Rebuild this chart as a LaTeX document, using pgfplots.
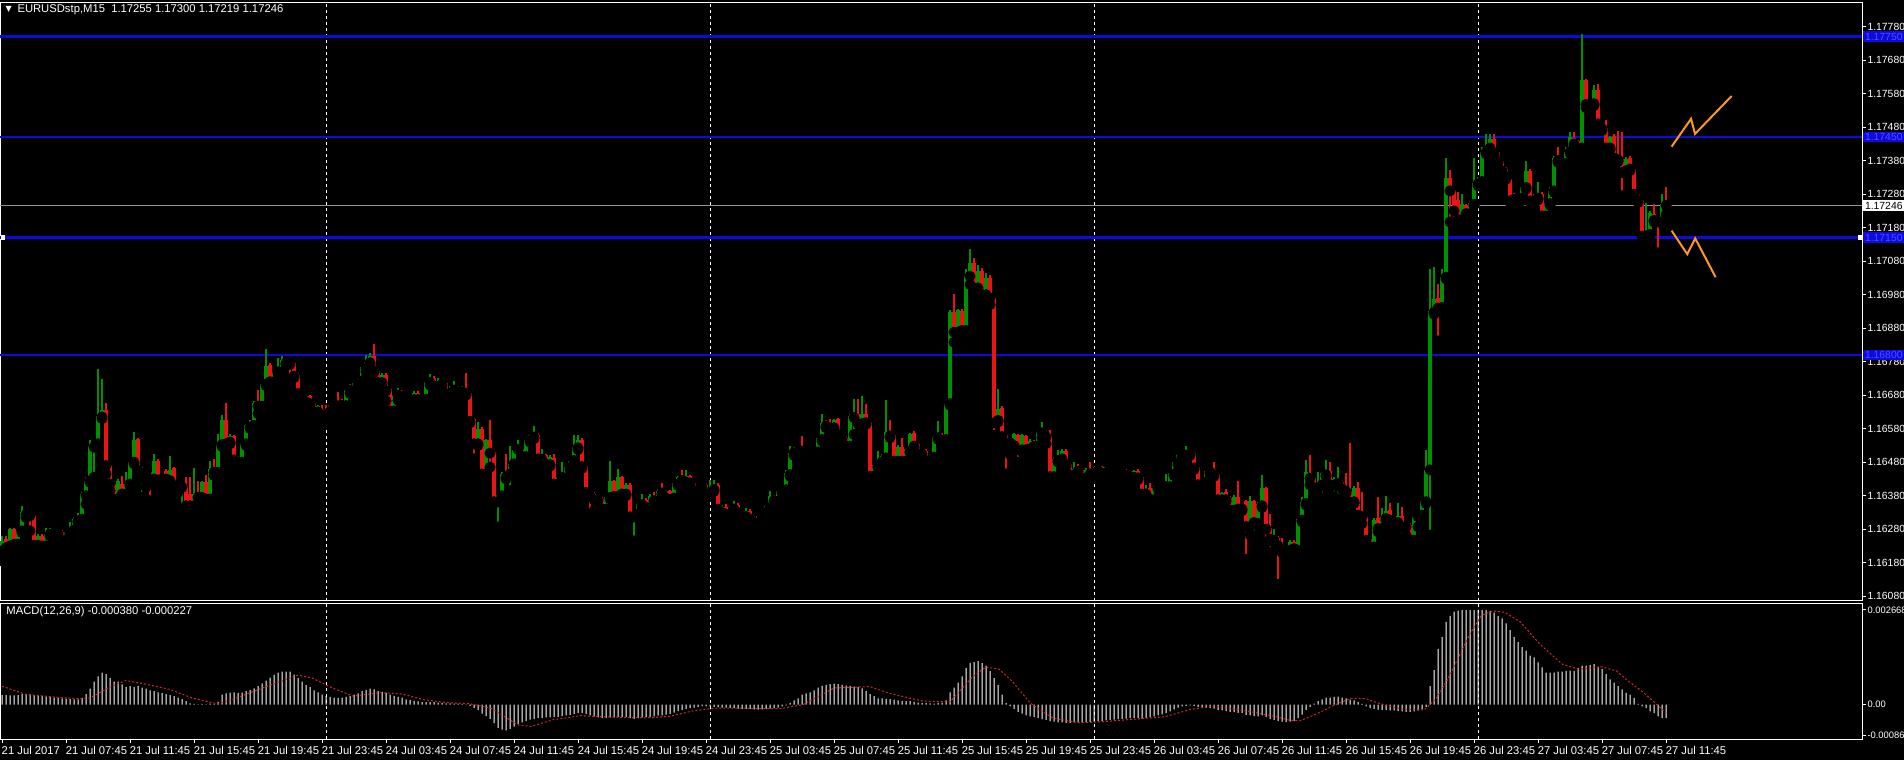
\documentclass[border=0pt]{standalone}
\usepackage{pgfplots}
\usepackage{pgfplotstable}
\pgfplotsset{compat=1.18}
\usepackage{fontspec}
\setmainfont{Liberation Sans}
\newfontfamily\dejavu{DejaVu Sans}
\definecolor{cgreen}{RGB}{0,145,0}
\definecolor{cred}{RGB}{235,20,20}
\definecolor{lblue}{RGB}{10,10,225}
\definecolor{lblue2}{RGB}{80,80,255}
\definecolor{corange}{RGB}{255,150,30}
\definecolor{sigred}{RGB}{215,40,40}
\definecolor{cgray}{RGB}{150,150,150}
\newcommand{\fs}{\fontsize{4.5}{5.4}\selectfont}
\newcommand{\fr}{\fontsize{4.15}{5}\selectfont}
\newcommand{\fm}{\fontsize{3.75}{4.5}\selectfont}

\pgfplotstableread{
i o h l c m
0 1.16215 1.16260 1.16185 1.16245 0.00027
1 1.16250 1.16260 1.16215 1.16225 0.00027
2 1.16230 1.16285 1.16225 1.16280 0.00026
3 1.16280 1.16285 1.16225 1.16235 0.00026
4 1.16235 1.16280 1.16225 1.16275 0.00027
5 1.16275 1.16350 1.16270 1.16330 0.00030
6 1.16327 1.16330 1.16315 1.16323 0.00030
7 1.16325 1.16330 1.16275 1.16320 0.00029
8 1.16322 1.16325 1.16225 1.16232 0.00026
9 1.16232 1.16265 1.16225 1.16260 0.00025
10 1.16260 1.16265 1.16220 1.16230 0.00024
11 1.16230 1.16285 1.16225 1.16265 0.00023
12 1.16265 1.16285 1.16260 1.16272 0.00021
13 1.16268 1.16280 1.16262 1.16272 0.00020
14 1.16267 1.16278 1.16262 1.16272 0.00019
15 1.16272 1.16278 1.16238 1.16245 0.00018
16 1.16247 1.16278 1.16240 1.16273 0.00017
17 1.16270 1.16300 1.16265 1.16278 0.00016
18 1.16278 1.16315 1.16272 1.16310 0.00015
19 1.16305 1.16327 1.16300 1.16315 0.00015
20 1.16310 1.16390 1.16305 1.16385 0.00019
21 1.16380 1.16435 1.16355 1.16425 0.00030
22 1.16425 1.16545 1.16420 1.16527 0.00045
23 1.16525 1.16540 1.16435 1.16535 0.00065
24 1.16535 1.16757 1.16530 1.16617 0.00080
25 1.16615 1.16727 1.16610 1.16635 0.00090
26 1.16635 1.16657 1.16445 1.16470 0.00086
27 1.16470 1.16475 1.16395 1.16415 0.00075
28 1.16415 1.16425 1.16363 1.16370 0.00065
29 1.16370 1.16430 1.16365 1.16425 0.00065
30 1.16415 1.16440 1.16350 1.16385 0.00057
31 1.16385 1.16450 1.16380 1.16415 0.00050
32 1.16415 1.16487 1.16410 1.16482 0.00052
33 1.16480 1.16570 1.16475 1.16545 0.00050
34 1.16548 1.16553 1.16430 1.16455 0.00052
35 1.16430 1.16465 1.16375 1.16460 0.00048
36 1.16462 1.16467 1.16405 1.16450 0.00045
37 1.16452 1.16457 1.16365 1.16428 0.00040
38 1.16430 1.16505 1.16425 1.16485 0.00038
39 1.16485 1.16490 1.16418 1.16425 0.00035
40 1.16430 1.16440 1.16397 1.16431 0.00033
41 1.16455 1.16460 1.16400 1.16430 0.00030
42 1.16425 1.16497 1.16420 1.16457 0.00027
43 1.16462 1.16467 1.16397 1.16410 0.00024
44 1.16413 1.16418 1.16390 1.16403 0.00020
45 1.16405 1.16418 1.16340 1.16413 0.00016
46 1.16410 1.16435 1.16345 1.16350 0.00010
47 1.16385 1.16435 1.16345 1.16350 0.00004
48 1.16350 1.16463 1.16345 1.16385 0.00002
49 1.16385 1.16425 1.16355 1.16375 0.00001
50 1.16375 1.16425 1.16347 1.16420 0.00002
51 1.16420 1.16443 1.16365 1.16370 0.00001
52 1.16370 1.16485 1.16365 1.16460 0.00003
53 1.16457 1.16490 1.16440 1.16450 0.00002
54 1.16450 1.16565 1.16445 1.16532 0.00008
55 1.16532 1.16620 1.16527 1.16607 0.00028
56 1.16605 1.16657 1.16530 1.16535 0.00032
57 1.16540 1.16565 1.16535 1.16557 0.00034
58 1.16557 1.16562 1.16480 1.16487 0.00035
59 1.16492 1.16497 1.16470 1.16480 0.00033
60 1.16480 1.16540 1.16475 1.16535 0.00034
61 1.16535 1.16595 1.16530 1.16590 0.00038
62 1.16585 1.16605 1.16580 1.16592 0.00042
63 1.16590 1.16662 1.16570 1.16657 0.00046
64 1.16655 1.16695 1.16625 1.16647 0.00052
65 1.16647 1.16718 1.16642 1.16713 0.00060
66 1.16713 1.16817 1.16708 1.16767 0.00068
67 1.16770 1.16775 1.16715 1.16720 0.00076
68 1.16720 1.16755 1.16695 1.16750 0.00084
69 1.16750 1.16790 1.16745 1.16765 0.00090
70 1.16750 1.16797 1.16745 1.16785 0.00093
71 1.16785 1.16790 1.16770 1.16775 0.00093
72 1.16777 1.16782 1.16725 1.16772 0.00093
73 1.16775 1.16780 1.16732 1.16737 0.00085
74 1.16740 1.16745 1.16680 1.16685 0.00075
75 1.16685 1.16690 1.16668 1.16675 0.00065
76 1.16678 1.16683 1.16630 1.16660 0.00055
77 1.16677 1.16682 1.16650 1.16655 0.00050
78 1.16657 1.16662 1.16603 1.16630 0.00040
79 1.16630 1.16652 1.16625 1.16647 0.00035
80 1.16638 1.16650 1.16600 1.16607 0.00028
81 1.16630 1.16650 1.16600 1.16623 0.00024
82 1.16630 1.16657 1.16620 1.16652 0.00022
83 1.16649 1.16663 1.16645 1.16657 0.00020
84 1.16657 1.16690 1.16640 1.16648 0.00019
85 1.16655 1.16670 1.16640 1.16649 0.00020
86 1.16649 1.16700 1.16644 1.16695 0.00022
87 1.16695 1.16713 1.16685 1.16696 0.00024
88 1.16693 1.16720 1.16675 1.16715 0.00028
89 1.16713 1.16730 1.16705 1.16725 0.00032
90 1.16723 1.16768 1.16718 1.16763 0.00038
91 1.16760 1.16800 1.16750 1.16778 0.00042
92 1.16777 1.16807 1.16772 1.16797 0.00045
93 1.16797 1.16833 1.16748 1.16753 0.00043
94 1.16753 1.16760 1.16710 1.16718 0.00038
95 1.16718 1.16745 1.16713 1.16740 0.00036
96 1.16740 1.16745 1.16663 1.16693 0.00033
97 1.16697 1.16702 1.16620 1.16633 0.00028
98 1.16633 1.16685 1.16628 1.16680 0.00025
99 1.16680 1.16700 1.16665 1.16685 0.00022
100 1.16688 1.16695 1.16668 1.16673 0.00020
101 1.16682 1.16692 1.16673 1.16683 0.00015
102 1.16682 1.16687 1.16662 1.16667 0.00013
103 1.16667 1.16692 1.16662 1.16687 0.00011
104 1.16687 1.16692 1.16662 1.16667 0.00009
105 1.16668 1.16678 1.16663 1.16673 0.00007
106 1.16668 1.16723 1.16663 1.16718 0.00007
107 1.16718 1.16743 1.16710 1.16730 0.00008
108 1.16732 1.16737 1.16702 1.16707 0.00007
109 1.16705 1.16730 1.16690 1.16720 0.00006
110 1.16722 1.16727 1.16707 1.16712 0.00005
111 1.16715 1.16720 1.16680 1.16685 0.00004
112 1.16685 1.16707 1.16680 1.16695 0.00004
113 1.16695 1.16723 1.16690 1.16700 0.00003
114 1.16703 1.16708 1.16670 1.16690 0.00003
115 1.16690 1.16707 1.16685 1.16702 0.00002
116 1.16700 1.16745 1.16680 1.16685 0.00001
117 1.16688 1.16693 1.16597 1.16602 -0.00003
118 1.16608 1.16613 1.16490 1.16535 -0.00010
119 1.16535 1.16600 1.16530 1.16580 -0.00015
120 1.16580 1.16585 1.16415 1.16445 -0.00025
121 1.16445 1.16550 1.16425 1.16545 -0.00032
122 1.16545 1.16605 1.16465 1.16507 -0.00040
123 1.16510 1.16515 1.16357 1.16362 -0.00052
124 1.16362 1.16387 1.16287 1.16382 -0.00065
125 1.16380 1.16450 1.16375 1.16445 -0.00070
126 1.16447 1.16505 1.16430 1.16435 -0.00072
127 1.16445 1.16527 1.16395 1.16475 -0.00068
128 1.16475 1.16522 1.16470 1.16517 -0.00062
129 1.16518 1.16545 1.16473 1.16519 -0.00055
130 1.16518 1.16523 1.16492 1.16497 -0.00050
131 1.16497 1.16550 1.16492 1.16545 -0.00046
132 1.16545 1.16565 1.16540 1.16560 -0.00042
133 1.16555 1.16587 1.16550 1.16562 -0.00040
134 1.16562 1.16567 1.16485 1.16490 -0.00038
135 1.16488 1.16520 1.16483 1.16500 -0.00038
136 1.16500 1.16505 1.16450 1.16473 -0.00036
137 1.16473 1.16500 1.16468 1.16495 -0.00035
138 1.16493 1.16505 1.16410 1.16415 -0.00035
139 1.16415 1.16440 1.16410 1.16435 -0.00034
140 1.16435 1.16480 1.16425 1.16436 -0.00032
141 1.16433 1.16470 1.16428 1.16465 -0.00030
142 1.16463 1.16490 1.16458 1.16485 -0.00029
143 1.16485 1.16562 1.16480 1.16525 -0.00026
144 1.16523 1.16560 1.16518 1.16545 -0.00024
145 1.16547 1.16552 1.16462 1.16467 -0.00023
146 1.16470 1.16475 1.16385 1.16390 -0.00026
147 1.16393 1.16398 1.16320 1.16380 -0.00030
148 1.16385 1.16390 1.16335 1.16367 -0.00033
149 1.16365 1.16375 1.16335 1.16370 -0.00036
150 1.16370 1.16375 1.16335 1.16340 -0.00038
151 1.16340 1.16382 1.16335 1.16377 -0.00038
152 1.16375 1.16485 1.16370 1.16423 -0.00036
153 1.16423 1.16428 1.16373 1.16378 -0.00036
154 1.16378 1.16460 1.16373 1.16435 -0.00035
155 1.16435 1.16440 1.16380 1.16385 -0.00035
156 1.16385 1.16418 1.16380 1.16413 -0.00034
157 1.16413 1.16418 1.16312 1.16317 -0.00038
158 1.16317 1.16332 1.16245 1.16327 -0.00040
159 1.16327 1.16360 1.16322 1.16355 -0.00038
160 1.16353 1.16385 1.16348 1.16367 -0.00036
161 1.16367 1.16372 1.16340 1.16345 -0.00035
162 1.16345 1.16385 1.16340 1.16380 -0.00034
163 1.16380 1.16390 1.16355 1.16365 -0.00033
164 1.16365 1.16400 1.16360 1.16395 -0.00031
165 1.16403 1.16418 1.16383 1.16388 -0.00030
166 1.16373 1.16398 1.16368 1.16393 -0.00028
167 1.16393 1.16398 1.16360 1.16368 -0.00026
168 1.16373 1.16423 1.16368 1.16418 -0.00022
169 1.16415 1.16440 1.16410 1.16435 -0.00018
170 1.16435 1.16458 1.16420 1.16425 -0.00015
171 1.16421 1.16458 1.16416 1.16438 -0.00012
172 1.16438 1.16443 1.16413 1.16418 -0.00010
173 1.16418 1.16423 1.16390 1.16395 -0.00008
174 1.16395 1.16413 1.16390 1.16408 -0.00006
175 1.16405 1.16418 1.16400 1.16411 -0.00004
176 1.16411 1.16416 1.16378 1.16385 -0.00005
177 1.16385 1.16428 1.16380 1.16398 -0.00005
178 1.16398 1.16428 1.16393 1.16411 -0.00006
179 1.16413 1.16418 1.16330 1.16340 -0.00007
180 1.16330 1.16352 1.16315 1.16345 -0.00008
181 1.16345 1.16355 1.16310 1.16325 -0.00008
182 1.16325 1.16350 1.16318 1.16340 -0.00009
183 1.16340 1.16365 1.16332 1.16352 -0.00010
184 1.16352 1.16358 1.16320 1.16330 -0.00011
185 1.16330 1.16337 1.16305 1.16318 -0.00012
186 1.16318 1.16342 1.16310 1.16335 -0.00012
187 1.16335 1.16340 1.16300 1.16310 -0.00012
188 1.16310 1.16318 1.16280 1.16298 -0.00013
189 1.16298 1.16325 1.16285 1.16320 -0.00014
190 1.16320 1.16338 1.16312 1.16332 -0.00013
191 1.16330 1.16352 1.16325 1.16348 -0.00012
192 1.16345 1.16395 1.16340 1.16378 -0.00011
193 1.16378 1.16383 1.16358 1.16365 -0.00010
194 1.16363 1.16398 1.16358 1.16393 -0.00008
195 1.16393 1.16408 1.16388 1.16403 -0.00005
196 1.16398 1.16458 1.16383 1.16448 -0.00002
197 1.16443 1.16528 1.16438 1.16508 0.00005
198 1.16508 1.16525 1.16500 1.16515 0.00012
199 1.16505 1.16523 1.16488 1.16518 0.00018
200 1.16518 1.16558 1.16508 1.16513 0.00028
201 1.16515 1.16528 1.16505 1.16516 0.00032
202 1.16513 1.16526 1.16508 1.16521 0.00035
203 1.16518 1.16523 1.16503 1.16508 0.00040
204 1.16511 1.16556 1.16506 1.16551 0.00048
205 1.16548 1.16623 1.16543 1.16598 0.00053
206 1.16601 1.16605 1.16583 1.16588 0.00056
207 1.16595 1.16608 1.16563 1.16581 0.00058
208 1.16583 1.16610 1.16578 1.16605 0.00059
209 1.16608 1.16613 1.16556 1.16561 0.00058
210 1.16563 1.16568 1.16528 1.16548 0.00056
211 1.16553 1.16558 1.16508 1.16528 0.00054
212 1.16528 1.16623 1.16523 1.16618 0.00053
213 1.16613 1.16668 1.16563 1.16625 0.00051
214 1.16625 1.16668 1.16563 1.16595 0.00050
215 1.16595 1.16678 1.16590 1.16625 0.00046
216 1.16625 1.16655 1.16593 1.16598 0.00038
217 1.16601 1.16606 1.16433 1.16438 0.00030
218 1.16438 1.16476 1.16415 1.16471 0.00024
219 1.16468 1.16513 1.16463 1.16483 0.00018
220 1.16481 1.16503 1.16473 1.16498 0.00018
221 1.16493 1.16665 1.16488 1.16571 0.00016
222 1.16573 1.16605 1.16553 1.16558 0.00016
223 1.16561 1.16566 1.16478 1.16483 0.00014
224 1.16483 1.16530 1.16478 1.16525 0.00012
225 1.16525 1.16551 1.16473 1.16483 0.00010
226 1.16483 1.16523 1.16478 1.16518 0.00010
227 1.16513 1.16568 1.16508 1.16563 0.00010
228 1.16568 1.16573 1.16523 1.16528 0.00008
229 1.16533 1.16538 1.16500 1.16505 0.00006
230 1.16505 1.16518 1.16468 1.16513 0.00005
231 1.16513 1.16518 1.16480 1.16485 0.00005
232 1.16483 1.16503 1.16458 1.16498 0.00004
233 1.16495 1.16560 1.16490 1.16555 0.00003
234 1.16553 1.16603 1.16548 1.16561 0.00005
235 1.16561 1.16568 1.16533 1.16543 0.00006
236 1.16548 1.16660 1.16543 1.16655 0.00012
237 1.16655 1.16933 1.16650 1.16928 0.00035
238 1.16928 1.16981 1.16838 1.16868 0.00048
239 1.16868 1.16938 1.16843 1.16933 0.00062
240 1.16931 1.16936 1.16855 1.16873 0.00080
241 1.16873 1.17058 1.16868 1.17035 0.00104
242 1.17035 1.17116 1.17010 1.17075 0.00118
243 1.17075 1.17090 1.16985 1.17000 0.00120
244 1.17000 1.17070 1.16990 1.17050 0.00123
245 1.17050 1.17060 1.16960 1.16980 0.00118
246 1.16980 1.17045 1.16965 1.17030 0.00110
247 1.17030 1.17040 1.16950 1.16970 0.00095
248 1.16970 1.16975 1.16560 1.16597 0.00075
249 1.16605 1.16697 1.16600 1.16640 0.00055
250 1.16642 1.16647 1.16515 1.16557 0.00028
251 1.16560 1.16565 1.16445 1.16535 0.00005
252 1.16538 1.16547 1.16503 1.16539 -0.00005
253 1.16530 1.16568 1.16525 1.16563 -0.00012
254 1.16560 1.16565 1.16480 1.16517 -0.00020
255 1.16517 1.16565 1.16512 1.16560 -0.00025
256 1.16557 1.16562 1.16512 1.16517 -0.00030
257 1.16520 1.16548 1.16515 1.16543 -0.00033
258 1.16540 1.16545 1.16510 1.16527 -0.00035
259 1.16528 1.16575 1.16523 1.16570 -0.00038
260 1.16568 1.16600 1.16553 1.16569 -0.00041
261 1.16568 1.16577 1.16535 1.16555 -0.00043
262 1.16557 1.16577 1.16432 1.16437 -0.00046
263 1.16437 1.16495 1.16432 1.16490 -0.00048
264 1.16485 1.16515 1.16480 1.16495 -0.00050
265 1.16490 1.16520 1.16485 1.16513 -0.00050
266 1.16513 1.16518 1.16468 1.16473 -0.00051
267 1.16475 1.16480 1.16430 1.16442 -0.00051
268 1.16442 1.16480 1.16425 1.16460 -0.00050
269 1.16460 1.16475 1.16448 1.16453 -0.00050
270 1.16457 1.16462 1.16427 1.16432 -0.00050
271 1.16432 1.16462 1.16407 1.16457 -0.00050
272 1.16457 1.16480 1.16440 1.16445 -0.00049
273 1.16443 1.16465 1.16438 1.16460 -0.00048
274 1.16455 1.16473 1.16450 1.16467 -0.00047
275 1.16465 1.16470 1.16442 1.16447 -0.00046
276 1.16447 1.16470 1.16442 1.16465 -0.00044
277 1.16463 1.16473 1.16458 1.16468 -0.00043
278 1.16465 1.16470 1.16445 1.16450 -0.00042
279 1.16457 1.16470 1.16447 1.16458 -0.00041
280 1.16457 1.16462 1.16442 1.16447 -0.00040
281 1.16455 1.16460 1.16435 1.16440 -0.00039
282 1.16447 1.16452 1.16430 1.16435 -0.00038
283 1.16435 1.16458 1.16430 1.16453 -0.00038
284 1.16455 1.16460 1.16428 1.16433 -0.00038
285 1.16435 1.16440 1.16363 1.16385 -0.00040
286 1.16385 1.16413 1.16380 1.16398 -0.00037
287 1.16403 1.16417 1.16365 1.16370 -0.00035
288 1.16367 1.16408 1.16362 1.16403 -0.00033
289 1.16405 1.16410 1.16375 1.16400 -0.00030
290 1.16403 1.16417 1.16398 1.16410 -0.00027
291 1.16407 1.16445 1.16385 1.16410 -0.00024
292 1.16407 1.16452 1.16402 1.16447 -0.00019
293 1.16445 1.16485 1.16440 1.16480 -0.00013
294 1.16477 1.16505 1.16472 1.16500 -0.00008
295 1.16497 1.16508 1.16492 1.16503 -0.00005
296 1.16500 1.16527 1.16495 1.16513 -0.00003
297 1.16513 1.16518 1.16500 1.16505 -0.00002
298 1.16507 1.16512 1.16458 1.16463 -0.00003
299 1.16467 1.16472 1.16408 1.16413 -0.00006
300 1.16413 1.16430 1.16405 1.16425 -0.00008
301 1.16422 1.16458 1.16417 1.16453 -0.00009
302 1.16450 1.16467 1.16445 1.16457 -0.00010
303 1.16460 1.16480 1.16438 1.16443 -0.00011
304 1.16445 1.16450 1.16363 1.16368 -0.00015
305 1.16368 1.16392 1.16363 1.16387 -0.00016
306 1.16390 1.16400 1.16363 1.16368 -0.00018
307 1.16373 1.16378 1.16320 1.16337 -0.00020
308 1.16337 1.16382 1.16332 1.16377 -0.00021
309 1.16377 1.16425 1.16320 1.16340 -0.00023
310 1.16340 1.16352 1.16335 1.16347 -0.00024
311 1.16363 1.16368 1.16190 1.16288 -0.00029
312 1.16288 1.16380 1.16263 1.16363 -0.00030
313 1.16363 1.16368 1.16260 1.16300 -0.00032
314 1.16297 1.16360 1.16292 1.16355 -0.00033
315 1.16350 1.16442 1.16345 1.16402 -0.00030
316 1.16402 1.16407 1.16240 1.16280 -0.00035
317 1.16285 1.16325 1.16210 1.16250 -0.00040
318 1.16247 1.16280 1.16242 1.16253 -0.00043
319 1.16255 1.16260 1.16115 1.16230 -0.00046
320 1.16232 1.16255 1.16210 1.16215 -0.00048
321 1.16213 1.16225 1.16208 1.16220 -0.00049
322 1.16217 1.16247 1.16212 1.16242 -0.00048
323 1.16242 1.16247 1.16207 1.16222 -0.00046
324 1.16217 1.16314 1.16212 1.16309 -0.00038
325 1.16307 1.16377 1.16302 1.16362 -0.00028
326 1.16357 1.16487 1.16352 1.16452 -0.00015
327 1.16447 1.16502 1.16412 1.16432 -0.00006
328 1.16434 1.16439 1.16399 1.16404 0.00003
329 1.16402 1.16452 1.16382 1.16417 0.00010
330 1.16412 1.16452 1.16362 1.16447 0.00015
331 1.16442 1.16487 1.16437 1.16457 0.00020
332 1.16455 1.16482 1.16407 1.16412 0.00020
333 1.16412 1.16435 1.16377 1.16430 0.00022
334 1.16417 1.16467 1.16367 1.16432 0.00023
335 1.16422 1.16427 1.16372 1.16400 0.00020
336 1.16404 1.16447 1.16387 1.16392 0.00018
337 1.16394 1.16537 1.16347 1.16360 0.00014
338 1.16362 1.16409 1.16357 1.16404 0.00012
339 1.16404 1.16422 1.16317 1.16322 0.00008
340 1.16327 1.16392 1.16297 1.16317 0.00002
341 1.16317 1.16322 1.16222 1.16247 -0.00005
342 1.16250 1.16255 1.16202 1.16227 -0.00010
343 1.16227 1.16312 1.16217 1.16307 -0.00012
344 1.16312 1.16377 1.16272 1.16282 -0.00014
345 1.16282 1.16342 1.16277 1.16317 -0.00015
346 1.16312 1.16380 1.16307 1.16335 -0.00015
347 1.16337 1.16357 1.16277 1.16307 -0.00016
348 1.16312 1.16317 1.16297 1.16302 -0.00016
349 1.16300 1.16357 1.16295 1.16320 -0.00018
350 1.16320 1.16347 1.16247 1.16287 -0.00019
351 1.16287 1.16297 1.16262 1.16292 -0.00020
352 1.16292 1.16297 1.16237 1.16247 -0.00020
353 1.16247 1.16322 1.16242 1.16317 -0.00019
354 1.16317 1.16332 1.16287 1.16327 -0.00017
355 1.16322 1.16369 1.16317 1.16364 -0.00013
356 1.16362 1.16517 1.16357 1.16457 -0.00006
357 1.16457 1.17057 1.16262 1.16932 0.00052
358 1.16927 1.17062 1.16922 1.16967 0.00097
359 1.16970 1.17012 1.16842 1.16940 0.00157
360 1.16942 1.17057 1.16937 1.17032 0.00190
361 1.17032 1.17387 1.17027 1.17327 0.00233
362 1.17327 1.17352 1.17197 1.17290 0.00250
363 1.17292 1.17297 1.17187 1.17230 0.00262
364 1.17262 1.17287 1.17199 1.17204 0.00265
365 1.17204 1.17282 1.17192 1.17250 0.00266
366 1.17247 1.17252 1.17210 1.17222 0.00266
367 1.17222 1.17259 1.17210 1.17254 0.00266
368 1.17250 1.17387 1.17245 1.17312 0.00266
369 1.17310 1.17330 1.17305 1.17322 0.002665
370 1.17318 1.17420 1.17313 1.17407 0.002668
371 1.17405 1.17460 1.17400 1.17420 0.00266
372 1.17418 1.17460 1.17413 1.17445 0.00264
373 1.17445 1.17460 1.17397 1.17402 0.00259
374 1.17405 1.17410 1.17373 1.17378 0.00250
375 1.17380 1.17385 1.17345 1.17350 0.00243
376 1.17355 1.17360 1.17325 1.17330 0.00229
377 1.17325 1.17330 1.17255 1.17260 0.00210
378 1.17280 1.17285 1.17260 1.17265 0.00190
379 1.17278 1.17283 1.17255 1.17268 0.00176
380 1.17268 1.17307 1.17260 1.17302 0.00162
381 1.17300 1.17380 1.17295 1.17350 0.00152
382 1.17350 1.17355 1.17255 1.17260 0.00138
383 1.17270 1.17280 1.17245 1.17260 0.00133
384 1.17268 1.17315 1.17263 1.17282 0.00119
385 1.17282 1.17287 1.17205 1.17215 0.00105
386 1.17215 1.17260 1.17202 1.17255 0.00090
387 1.17252 1.17300 1.17247 1.17290 0.00090
388 1.17290 1.17395 1.17285 1.17388 0.00090
389 1.17390 1.17422 1.17375 1.17380 0.00093
390 1.17382 1.17387 1.17360 1.17370 0.00093
391 1.17372 1.17420 1.17367 1.17405 0.00095
392 1.17407 1.17465 1.17402 1.17450 0.00096
393 1.17448 1.17465 1.17425 1.17430 0.00095
394 1.17438 1.17443 1.17410 1.17415 0.00103
395 1.17418 1.17758 1.17413 1.17620 0.00110
396 1.17620 1.17625 1.17538 1.17548 0.00110
397 1.17552 1.17557 1.17520 1.17548 0.00112
398 1.17550 1.17605 1.17545 1.17590 0.00114
399 1.17590 1.17610 1.17485 1.17490 0.00105
400 1.17490 1.17495 1.17470 1.17475 0.00100
401 1.17478 1.17500 1.17413 1.17418 0.00086
402 1.17418 1.17455 1.17413 1.17450 0.00071
403 1.17455 1.17460 1.17383 1.17388 0.00062
404 1.17390 1.17470 1.17377 1.17382 0.00052
405 1.17385 1.17465 1.17275 1.17345 0.00043
406 1.17350 1.17390 1.17345 1.17385 0.00033
407 1.17388 1.17393 1.17350 1.17355 0.00028
408 1.17355 1.17360 1.17275 1.17280 0.00019
409 1.17280 1.17285 1.17255 1.17260 0.00002
410 1.17262 1.17267 1.17135 1.17155 -0.00005
411 1.17155 1.17255 1.17145 1.17165 -0.00010
412 1.17160 1.17230 1.17145 1.17225 -0.00019
413 1.17222 1.17250 1.17197 1.17202 -0.00024
414 1.17205 1.17210 1.17105 1.17198 -0.00033
415 1.17198 1.17280 1.17193 1.17250 -0.00038
416 1.17255 1.17300 1.17219 1.17246 -0.00038
}\candles

\pgfplotstableread{
i s
0 0.00052
6 0.00029
14 0.00021
18.5 0.00017
22 0.00019
27 0.00050
31 0.00068
35 0.00060
42 0.00043
47.5 0.00019
54 0.00002
57.5 0.00014
63 0.00038
68.7 0.00062
74 0.00083
77.6 0.00075
82 0.00050
87.7 0.00024
94.4 0.00034
100 0.00030
105.5 0.00014
111 0.00006
116.7 0.00003
122.3 -0.00010
129 -0.00057
132.3 -0.00061
137.9 -0.00042
144.6 -0.00031
152.4 -0.00035
161.3 -0.00037
166.9 -0.00033
172.5 -0.00018
178 -0.00010
185.7 -0.00010
194.6 -0.00011
200.2 0.00000
208 0.00047
216.9 0.00051
222.5 0.00030
230.3 0.00010
237 0.00008
242.6 0.00078
245.9 0.00106
249.3 0.00100
252.6 0.00065
257.1 0.00004
262.7 -0.00038
269.4 -0.00051
275 -0.00048
281.6 -0.00042
290.6 -0.00034
297.3 -0.00013
302.9 -0.00004
308.4 -0.00012
317.4 -0.00031
322 -0.00044
324.6 -0.00045
329.4 -0.00022
333.3 0.00000
337.2 0.00018
341 0.00017
343.9 0.00005
349.7 -0.00012
355.5 -0.00015
358.4 0.00015
361.2 0.00067
364.1 0.00133
367 0.00200
369.9 0.00252
372.8 0.00264
375.7 0.00260
379.6 0.00233
384.4 0.00171
390.1 0.00114
394 0.00100
399.8 0.00107
403.6 0.00095
406.5 0.00067
409.4 0.00043
412.3 0.00015
414.5 -0.00008
416 -0.000227
}\signal

\begin{document}
\begin{tikzpicture}[x=1pt,y=1pt]
\useasboundingbox (0pt,0pt) rectangle (761.6pt,304pt);
\fill[black] (0pt,0pt) rectangle (761.6pt,304pt);

% ---------------- main price panel ----------------
\begin{axis}[
  name=main, at={(0pt,303.04pt)}, anchor=north west,
  scale only axis, width=744.8pt, height=239.44pt,
  xmin=-0.5, xmax=465, ymin=1.160657, ymax=1.178525,
  axis line style={white, line width=0.4pt},
  xtick=\empty,
  scaled y ticks=false,
  ytick={1.1608,1.1618,1.1628,1.1638,1.1648,1.1658,1.1668,1.1678,1.1688,1.1698,1.1708,1.1718,1.1728,1.1738,1.1748,1.1758,1.1768,1.1778},
  yticklabels={1.16080,1.16180,1.16280,1.16380,1.16480,1.16580,1.16680,1.16780,1.16880,1.16980,1.17080,1.17180,1.17280,1.17380,1.17480,1.17580,1.17680,1.17780},
  ytick pos=right, yticklabel pos=right,
  tick align=outside, major tick length=1.6pt,
  tick style={white, line width=0.4pt},
  yticklabel style={text=white, font=\fr, anchor=west, inner sep=0pt, xshift=0.4pt},
]
% day separators
\draw[white, line width=0.4pt, dash pattern=on 1.2pt off 1.2pt] (axis cs:81,1.160657) -- (axis cs:81,1.178525);
\draw[white, line width=0.4pt, dash pattern=on 1.2pt off 1.2pt] (axis cs:177,1.160657) -- (axis cs:177,1.178525);
\draw[white, line width=0.4pt, dash pattern=on 1.2pt off 1.2pt] (axis cs:273,1.160657) -- (axis cs:273,1.178525);
\draw[white, line width=0.4pt, dash pattern=on 1.2pt off 1.2pt] (axis cs:369,1.160657) -- (axis cs:369,1.178525);
% horizontal levels
\addplot[lblue, line width=1pt] coordinates {(-0.5,1.17750) (465,1.17750)};
\addplot[lblue, line width=1pt] coordinates {(-0.5,1.17450) (465,1.17450)};
\addplot[lblue, line width=1pt] coordinates {(-0.5,1.17150) (465,1.17150)};
\addplot[lblue, line width=1pt] coordinates {(-0.5,1.16800) (465,1.16800)};
\addplot[cgray, line width=0.4pt] coordinates {(-0.5,1.17246) (465,1.17246)};
\addplot[only marks, mark=square*, mark size=0.7pt, white] coordinates {(0.3,1.17150) (464.6,1.17150)};
% candle wicks
\addplot[only marks, mark=none, restrict expr to domain={\thisrow{c}-\thisrow{o}}{0:1},
  error bars/.cd, y dir=plus, y explicit, error mark=none,
  error bar style={cgreen, line width=0.45pt}]
  table[x=i, y=l, y error expr={\thisrow{h}-\thisrow{l}}]{\candles};
\addplot[only marks, mark=none, restrict expr to domain={\thisrow{o}-\thisrow{c}}{0.000001:1},
  error bars/.cd, y dir=plus, y explicit, error mark=none,
  error bar style={cred, line width=0.45pt}]
  table[x=i, y=l, y error expr={\thisrow{h}-\thisrow{l}}]{\candles};
% candle bodies
\addplot[only marks, mark=none, restrict expr to domain={\thisrow{c}-\thisrow{o}}{0:1},
  error bars/.cd, y dir=plus, y explicit, error mark=none,
  error bar style={cgreen, line width=1.35pt}]
  table[x=i, y expr={min(\thisrow{o},\thisrow{c})}, y error expr={abs(\thisrow{c}-\thisrow{o})}]{\candles};
\addplot[only marks, mark=none, restrict expr to domain={\thisrow{o}-\thisrow{c}}{0.000001:1},
  error bars/.cd, y dir=plus, y explicit, error mark=none,
  error bar style={cred, line width=1.35pt}]
  table[x=i, y expr={min(\thisrow{o},\thisrow{c})}, y error expr={abs(\thisrow{c}-\thisrow{o})}]{\candles};
% hand-drawn arrows
\addplot[corange, line width=0.8pt] coordinates {(417.4,1.17422) (422.25,1.17505) (423.25,1.17460) (432.4,1.17573)};
\addplot[corange, line width=0.8pt] coordinates {(417.4,1.17171) (421.3,1.17101) (423.3,1.17148) (428.4,1.17032)};
\coordinate (L1) at (axis cs:465,1.17750);
\coordinate (L2) at (axis cs:465,1.17450);
\coordinate (L3) at (axis cs:465,1.17150);
\coordinate (L4) at (axis cs:465,1.16800);
\coordinate (LG) at (axis cs:465,1.17246);
\end{axis}

% price-level labels on the right scale
\foreach \c/\t in {L1/1.17750,L2/1.17450,L3/1.17150,L4/1.16800}{
  \node[anchor=west, fill=lblue, text=lblue2, font=\fr, inner sep=0pt,
        minimum height=4.2pt, minimum width=16.4pt, xshift=0.3pt] at (\c) {\t};
}
\node[anchor=west, fill=white, text=black, font=\fr, inner sep=0pt,
      minimum height=4.2pt, minimum width=16.4pt, xshift=0.3pt] at (LG) {1.17246};

% header
\node[anchor=west, inner sep=0pt, text=white, font=\dejavu\fontsize{3.2}{4}\selectfont] at (2.0pt,300.1pt) {▼};
\node[anchor=west, inner sep=0pt, text=white, font=\fs] at (6.8pt,300.1pt) {EURUSDstp,M15\ \ 1.17255 1.17300 1.17219 1.17246};

% ---------------- MACD panel ----------------
\begin{axis}[
  name=macd, at={(0pt,62.6pt)}, anchor=north west,
  scale only axis, width=744.8pt, height=54.4pt,
  xmin=-0.5, xmax=465, ymin=-0.00098, ymax=0.00285,
  axis line style={white, line width=0.4pt},
  scaled y ticks=false,
  xtick={0,16,...,416},
  xticklabels={21 Jul 2017,21 Jul 07:45,21 Jul 11:45,21 Jul 15:45,21 Jul 19:45,21 Jul 23:45,24 Jul 03:45,24 Jul 07:45,24 Jul 11:45,24 Jul 15:45,24 Jul 19:45,24 Jul 23:45,25 Jul 03:45,25 Jul 07:45,25 Jul 11:45,25 Jul 15:45,25 Jul 19:45,25 Jul 23:45,26 Jul 03:45,26 Jul 07:45,26 Jul 11:45,26 Jul 15:45,26 Jul 19:45,26 Jul 23:45,27 Jul 03:45,27 Jul 07:45,27 Jul 11:45},
  ytick={-0.000868,0,0.002668},
  yticklabels={-0.000868,0.00,0.002668},
  xtick pos=left, ytick pos=right, yticklabel pos=right,
  tick align=outside, major tick length=1.6pt,
  tick style={white, line width=0.4pt},
  xticklabel style={text=white, font=\fs, anchor=north west, inner sep=0pt, yshift=-0.8pt, xshift=-0.3pt},
  yticklabel style={text=white, font=\fm, anchor=west, inner sep=0pt, xshift=0.4pt},
]
\draw[white, line width=0.4pt, dash pattern=on 1.2pt off 1.2pt] (axis cs:81,-0.00098) -- (axis cs:81,0.00285);
\draw[white, line width=0.4pt, dash pattern=on 1.2pt off 1.2pt] (axis cs:177,-0.00098) -- (axis cs:177,0.00285);
\draw[white, line width=0.4pt, dash pattern=on 1.2pt off 1.2pt] (axis cs:273,-0.00098) -- (axis cs:273,0.00285);
\draw[white, line width=0.4pt, dash pattern=on 1.2pt off 1.2pt] (axis cs:369,-0.00098) -- (axis cs:369,0.00285);
\addplot[ybar, bar width=0.4pt, bar shift=0pt, fill=white, draw=none] table[x=i, y=m]{\candles};
\addplot[sigred, line width=0.4pt, dash pattern=on 0.8pt off 0.8pt, mark=none] table[x=i, y=s]{\signal};
\end{axis}
\node[anchor=west, inner sep=0pt, text=white, font=\fs] at (2.4pt,59.2pt) {MACD(12,26,9) -0.000380 -0.000227};
\end{tikzpicture}
\end{document}
